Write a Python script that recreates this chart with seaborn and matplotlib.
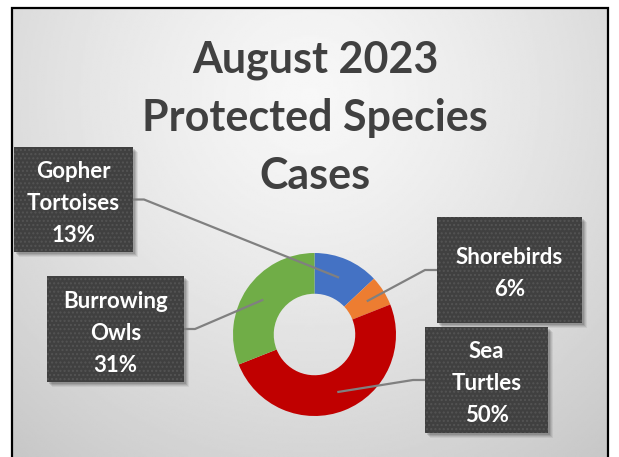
import numpy as np
import matplotlib
matplotlib.use("Agg")
import matplotlib.pyplot as plt
from matplotlib.patches import Rectangle
import seaborn as sns

# chart data
species = ["Gopher\nTortoises", "Shorebirds", "Sea\nTurtles", "Burrowing\nOwls"]
percent = [13, 6, 50, 31]
colors = ["#4472C4", "#ED7D31", "#C00000", "#70AD47"]
title_lines = ["August 2023", "Protected Species", "Cases"]

W, H = 619, 457

sns.set_theme(style="white")
plt.rcParams["font.family"] = ["Lato", "DejaVu Sans"]
plt.rcParams["hatch.linewidth"] = 1.0

fig = plt.figure(figsize=(W / 100, H / 100), dpi=100, facecolor="white")
ax = fig.add_axes([0, 0, 1, 1])


def Y(y_top):
    # pixel row (from top) -> axes y
    return H - y_top


# radial grey background inside the frame
gx, gy = np.meshgrid(np.linspace(12, 608, 300), np.linspace(8, H, 240))
d = np.hypot(gx - 310, gy - 95) / 469
shade = np.clip(0.97 - 0.19 * d ** 1.3, 0, 1)
ax.imshow(shade, cmap="gray", vmin=0, vmax=1, extent=(12, 608, 0, Y(8)),
          origin="upper", aspect="auto", zorder=0, interpolation="bilinear")
ax.add_patch(Rectangle((12, -20), 596, Y(8) + 20, fill=False, edgecolor="black",
                       linewidth=1.6, zorder=5, clip_on=False))

# donut
cx, cy, r = 314.5, Y(334.5), 81.5
ax.pie(percent, colors=colors, startangle=90, counterclock=False, radius=r,
       center=(cx, cy), wedgeprops=dict(width=r * 0.5, edgecolor="none"))

# title, one line at a time (baselines)
for base, line in zip([73, 131, 189], title_lines):
    ax.text(315, Y(base), line, ha="center", va="baseline", fontsize=31,
            fontweight="bold", color="#404040", zorder=6)

# label boxes (left, top, right, bottom in px from top)
boxes = [(14, 147, 133, 252), (437, 217, 582, 323), (425, 327, 548, 433), (47, 276, 184, 382)]

total = sum(percent)
start = 90.0
for name, pct, (x0, y0, x1, y1) in zip(species, percent, boxes):
    mid = np.deg2rad(start - pct / total * 360 / 2)
    start -= pct / total * 360
    ax_x = cx + 0.76 * r * np.cos(mid)
    ax_y = cy + 0.76 * r * np.sin(mid)

    bw, bh = x1 - x0, y1 - y0
    for k, a in [(5, 0.06), (4, 0.08), (3, 0.10), (2, 0.12)]:
        ax.add_patch(Rectangle((x0 + k, Y(y1) - k), bw, bh, facecolor="black",
                               alpha=a, edgecolor="none", zorder=3))
    ax.add_patch(Rectangle((x0, Y(y1)), bw, bh, facecolor="#404040",
                           edgecolor="none", zorder=4))
    ax.add_patch(Rectangle((x0, Y(y1)), bw, bh, facecolor="none", hatch="....",
                           edgecolor="#545454", linewidth=0, zorder=4))

    yc = (y0 + y1) / 2
    if ax_x > (x0 + x1) / 2:
        ex, el = x1, x1 + 11
    else:
        ex, el = x0, x0 - 12
    ax.plot([ex, el, ax_x], [Y(yc), Y(yc), ax_y], color="#808080", lw=1.6,
            solid_capstyle="butt", zorder=4.5)

    lines = f"{name}\n{pct}%".split("\n")
    n = len(lines)
    for i, txt in enumerate(lines):
        base = yc + 10.5 + (i - (n - 1) / 2) * 32
        ax.text((x0 + x1) / 2, Y(base), txt, ha="center", va="baseline",
                fontsize=16, fontweight="bold", color="white", zorder=6)

ax.set_xlim(0, W)
ax.set_ylim(0, H)
ax.set_aspect("auto")
ax.set_axis_off()

fig.savefig("out.png", dpi=100, facecolor="white")
